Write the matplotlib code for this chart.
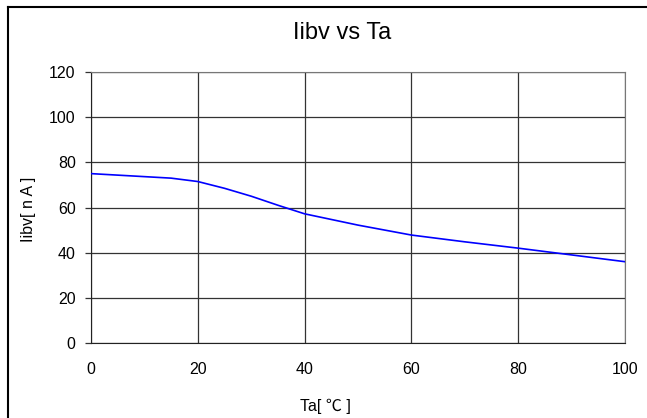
import matplotlib
matplotlib.use("Agg")
import matplotlib.pyplot as plt
from matplotlib.lines import Line2D

ta = [0, 15, 20, 25, 30, 35, 40, 50, 60, 70, 80, 90, 100]
iibv = [75.0, 73.0, 71.5, 68.5, 65.0, 61.0, 57.2, 52.2, 47.8, 44.8, 42.0, 39.0, 36.0]
xticks = [0, 20, 40, 60, 80, 100]
yticks = [0, 20, 40, 60, 80, 100, 120]

plt.rcParams['font.family'] = ['Liberation Sans', 'Noto Sans CJK KR', 'DejaVu Sans']

W, H = 647, 418
fig = plt.figure(figsize=(W/100, H/100), dpi=100)
ax = fig.add_axes([91/W, 1 - 343/H, (625-91)/W, (343-72)/H])

ax.plot(ta, iibv, color='#0000ff', lw=1.2, zorder=3)
ax.set_xlim(0, 100)
ax.set_ylim(0, 120)
ax.set_xticks(xticks)
ax.set_yticks(yticks)
ax.grid(True, color='#333333', lw=0.9)
ax.tick_params(axis='both', direction='out', length=4, width=0.9, color='#333333',
               labelsize=11.5, pad=7)
ax.tick_params(axis='x', length=0, pad=14)
for s in ['top', 'right']:
    ax.spines[s].set_color('#777777')
for s in ['left', 'bottom']:
    ax.spines[s].set_color('#222222')

fig.text(342/W, 1 - 33/H, 'Iibv vs Ta', ha='center', va='center', fontsize=17)
fig.text(29/W, 1 - 209/H, 'Iibv[ n A ]', ha='center', va='center', rotation=90, fontsize=11.5)
fig.text(325/W, 1 - 406/H, 'Ta[ ℃ ]', ha='center', va='center', fontsize=11.5)

fig.add_artist(Line2D([8/W, 8/W], [0, 1 - 7/H], color='black', lw=1.5, transform=fig.transFigure))
fig.add_artist(Line2D([8/W, 1], [1 - 7/H, 1 - 7/H], color='black', lw=1.5, transform=fig.transFigure))

fig.savefig('out.png', dpi=100)
